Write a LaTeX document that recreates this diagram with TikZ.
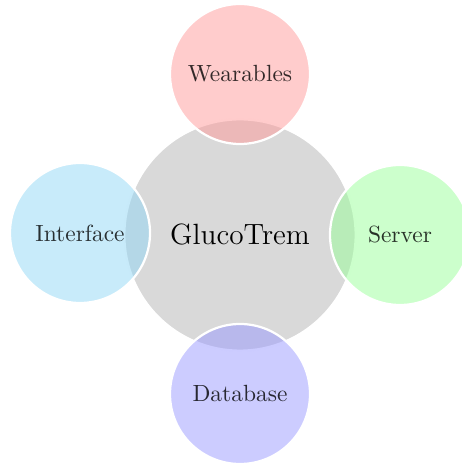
\documentclass[tikz,border=0pt]{standalone}
\usepackage{tikz}
\definecolor{ifaceblue}{RGB}{145,215,245}
\tikzstyle{core}=[circle, fill=black!15, draw=white, line width=0.95pt, minimum size=3.47cm, inner sep=0pt, anchor = center]
\tikzstyle{bubble}=[circle, fill opacity=0.5, text opacity=0.8, draw=white, draw opacity=1, line width=0.95pt, minimum size=2.1cm, inner sep=0pt, anchor = center]

\begin{document}
\begin{tikzpicture}[x=0.015cm, y=0.015cm]
	\useasboundingbox (0,0) rectangle (461,464);

	\node[core](gluco) at (240,229){\fontsize{12.5}{15}\selectfont GlucoTrem};

	\node[bubble, fill=red!40](wear) at (240,390){Wearables};
	\node[bubble, fill=ifaceblue](iface) at (80,231){Interface};
	\node[bubble, fill=green!40](server) at (400,229){Server};
	\node[bubble, fill=blue!40](dbase) at (240,70){Database};

\end{tikzpicture}
\end{document}
